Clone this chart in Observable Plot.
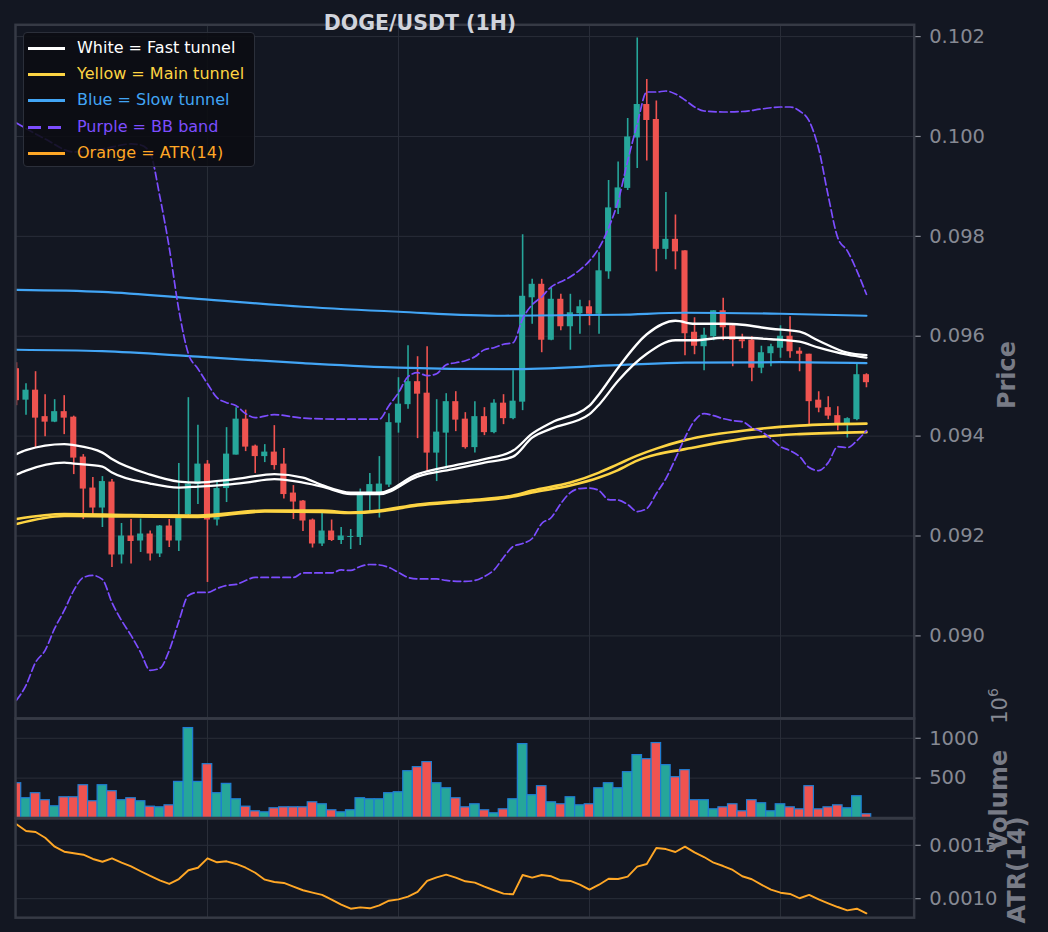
<!DOCTYPE html>
<html><head><meta charset="utf-8">
<script src="https://cdn.jsdelivr.net/npm/d3@7"></script>
<script src="https://cdn.jsdelivr.net/npm/@observablehq/plot@0.6"></script>
<style>
body{margin:0;background:#131722;font-family:"DejaVu Sans",sans-serif;}
#wrap{position:relative;width:1048px;height:932px;background:#131722;overflow:hidden}
.panel{position:absolute;left:0}
.vlab{position:absolute;transform:translate(-50%,-50%) rotate(-90deg);white-space:nowrap;color:#787b86;font-weight:bold;font-size:24px}
#title{position:absolute;left:420px;top:13.4px;transform:translateX(-50%);color:#d1d4dc;font-weight:bold;font-size:20.5px;line-height:20.5px;white-space:nowrap;z-index:5}
#legend{position:absolute;left:23px;top:32px;width:232px;height:135px;background:rgba(11,13,18,0.88);border:1px solid #2b2f3a;border-radius:4px;box-sizing:border-box;z-index:4}
.lrow{position:absolute;left:0;height:20px;font-size:16px;white-space:nowrap}
.lrow .sw{position:absolute;left:4px;top:9px;width:37px;height:3px}
.lrow .tx{position:absolute;left:53px;top:0;line-height:20px}
</style></head><body><div id="wrap"></div>
<script>
// ---- data ----
const chartTitle = "DOGE/USDT (1H)";
const opens = [0.09535,0.09472,0.09492,0.09439,0.09428,0.09449,0.09438,0.09358,0.09296,0.09256,
0.09308,0.09162,0.09200,0.09190,0.09204,0.09164,0.09220,0.09190,0.09243,0.09303,
0.09344,0.09232,0.09295,0.09362,0.09434,0.09380,0.09359,0.09368,0.09344,0.09286,
0.09270,0.09232,0.09184,0.09210,0.09191,0.09197,0.09197,0.09287,0.09287,0.09302,
0.09426,0.09463,0.09509,0.09486,0.09366,0.09406,0.09469,0.09434,0.09377,0.09439,
0.09407,0.09466,0.09435,0.09468,0.09677,0.09704,0.09592,0.09674,0.09619,0.09645,
0.09659,0.09644,0.09729,0.09856,0.09896,0.09997,0.10064,0.10034,0.09774,0.09794,
0.09771,0.09608,0.09579,0.09599,0.09651,0.09621,0.09593,0.09592,0.09536,0.09565,
0.09576,0.09600,0.09570,0.09564,0.09472,0.09457,0.09441,0.09423,0.09433,0.09523];
const highs = [0.09547,0.09505,0.09529,0.09483,0.09473,0.09481,0.09440,0.09363,0.09317,0.09319,
0.09313,0.09225,0.09233,0.09234,0.09210,0.09221,0.09233,0.09345,0.09477,0.09422,
0.09351,0.09310,0.09417,0.09457,0.09452,0.09382,0.09383,0.09421,0.09375,0.09301,
0.09271,0.09234,0.09246,0.09232,0.09217,0.09213,0.09294,0.09325,0.09359,0.09445,
0.09517,0.09581,0.09559,0.09579,0.09473,0.09485,0.09489,0.09447,0.09469,0.09457,
0.09473,0.09483,0.09531,0.09803,0.09714,0.09714,0.09697,0.09684,0.09684,0.09672,
0.09671,0.09767,0.09912,0.09949,0.10036,0.10197,0.10114,0.10071,0.09888,0.09843,
0.09771,0.09637,0.09616,0.09651,0.09676,0.09621,0.09604,0.09599,0.09580,0.09584,
0.09621,0.09639,0.09577,0.09564,0.09489,0.09479,0.09459,0.09437,0.09545,0.09525];
const lows = [0.09461,0.09442,0.09376,0.09399,0.09427,0.09403,0.09323,0.09233,0.09242,0.09217,
0.09137,0.09144,0.09144,0.09167,0.09150,0.09157,0.09177,0.09169,0.09240,0.09263,
0.09107,0.09220,0.09267,0.09362,0.09369,0.09325,0.09347,0.09332,0.09274,0.09233,
0.09209,0.09176,0.09179,0.09189,0.09183,0.09173,0.09181,0.09247,0.09236,0.09297,
0.09406,0.09454,0.09395,0.09327,0.09309,0.09334,0.09409,0.09374,0.09366,0.09401,
0.09405,0.09423,0.09433,0.09451,0.09624,0.09567,0.09591,0.09611,0.09572,0.09604,
0.09621,0.09604,0.09714,0.09844,0.09892,0.09936,0.09951,0.09729,0.09753,0.09733,
0.09561,0.09563,0.09531,0.09591,0.09591,0.09539,0.09575,0.09509,0.09525,0.09539,
0.09556,0.09556,0.09529,0.09423,0.09447,0.09433,0.09411,0.09396,0.09431,0.09497];
const closes = [0.09471,0.09492,0.09436,0.09428,0.09449,0.09436,0.09356,0.09294,0.09256,0.09309,
0.09162,0.09200,0.09189,0.09204,0.09164,0.09220,0.09190,0.09240,0.09304,0.09344,
0.09232,0.09295,0.09364,0.09434,0.09378,0.09359,0.09368,0.09341,0.09283,0.09268,
0.09230,0.09184,0.09210,0.09191,0.09200,0.09199,0.09286,0.09303,0.09304,0.09427,
0.09464,0.09509,0.09484,0.09366,0.09408,0.09469,0.09432,0.09377,0.09439,0.09407,
0.09466,0.09435,0.09470,0.09680,0.09704,0.09592,0.09674,0.09619,0.09647,0.09659,
0.09644,0.09731,0.09857,0.09897,0.09999,0.10064,0.10032,0.09774,0.09794,0.09769,
0.09605,0.09580,0.09602,0.09651,0.09617,0.09592,0.09589,0.09536,0.09567,0.09579,
0.09600,0.09569,0.09564,0.09469,0.09456,0.09440,0.09423,0.09435,0.09523,0.09507];
// volume in millions
const volumes = [436,248,311,223,147,260,260,411,210,411,
336,223,248,210,142,134,159,453,1128,453,
675,311,428,235,142,84,71,122,134,134,
134,197,172,97,71,97,248,235,235,311,
323,587,638,701,436,373,248,134,172,97,
59,109,235,927,286,399,197,172,260,159,
172,373,436,373,575,789,738,940,663,512,
600,223,223,109,134,172,84,223,185,84,
172,134,109,399,109,134,159,122,273,47];
const atr14 = [0.001697,0.001634,0.001625,0.001571,0.001487,0.001440,0.001425,0.001412,0.001372,0.001346,
0.001378,0.001337,0.001303,0.001257,0.001213,0.001172,0.001138,0.001184,0.001266,0.001290,
0.001378,0.001341,0.001350,0.001325,0.001290,0.001243,0.001178,0.001156,0.001147,0.001112,
0.001079,0.001056,0.001035,0.000991,0.000944,0.000906,0.000919,0.000910,0.000938,0.000981,
0.000994,0.001019,0.001063,0.001166,0.001200,0.001225,0.001197,0.001163,0.001150,0.001112,
0.001079,0.001047,0.001041,0.001222,0.001197,0.001222,0.001210,0.001172,0.001166,0.001131,
0.001084,0.001131,0.001187,0.001184,0.001206,0.001300,0.001325,0.001475,0.001465,0.001437,
0.001487,0.001434,0.001390,0.001337,0.001306,0.001269,0.001210,0.001182,0.001131,0.001084,
0.001056,0.001044,0.001004,0.001035,0.000994,0.000957,0.000922,0.000891,0.000906,0.000863];

// tunnels (sampled at candle index)
const fastIdx   = [0,1,5,6,9,10,14,17,19,22,24,27,30,32,35,38,42,46,49,52,54,56,60,61,63,66,69,71,74,76,79,82,84,87,89];
const fastUpper = [0.09364,0.09372,0.09384,0.09382,0.09367,0.09354,0.09323,0.09309,0.09307,0.09312,
0.09317,0.09324,0.09317,0.09302,0.09287,0.09287,0.09324,0.09342,0.09354,0.09371,
0.09405,0.09427,0.09461,0.09484,0.09537,0.09604,0.09631,0.09625,0.09625,0.09623,
0.09615,0.09609,0.09591,0.09567,0.09562];
const fastLower = [0.09323,0.09331,0.09347,0.09345,0.09339,0.09327,0.09305,0.09297,0.09299,0.09303,
0.09307,0.09314,0.09307,0.09299,0.09284,0.09284,0.09319,0.09335,0.09347,0.09359,
0.09397,0.09415,0.09444,0.09463,0.09511,0.09565,0.09592,0.09592,0.09597,0.09597,
0.09594,0.09589,0.09577,0.09563,0.09557];
const mainIdx   = [0,5,12,19,26,32,35,38,42,47,52,54,58,61,63,65,67,70,77,82,89];
const mainUpper = [0.09234,0.09244,0.09242,0.09241,0.09251,0.09251,0.09247,0.09251,0.09263,0.09271,
0.09281,0.09291,0.09307,0.09327,0.09344,0.09361,0.09375,0.09392,0.09413,0.09421,0.09425];
const mainLower = [0.09224,0.09240,0.09239,0.09238,0.09249,0.09248,0.09246,0.09249,0.09261,0.09269,
0.09279,0.09287,0.09301,0.09317,0.09332,0.09351,0.09363,0.09374,0.09397,0.09404,0.09408];
const slowIdx   = [0,9,19,30,40,51,63,70,80,89];
const slowUpper = [0.09693,0.09689,0.09675,0.09659,0.09649,0.09641,0.09643,0.09647,0.09645,0.09641];
const slowLower = [0.09573,0.09570,0.09559,0.09546,0.09537,0.09534,0.09542,0.09547,0.09548,0.09546];

// Bollinger bands
const bbUpperIdx = [0,3,6,9,12,13,14,15,16,17,18,19,20,21,22,23,24,25,27,30,34,38,
39,40,41,42,43,44,45,46,47,48,49,50,51,52,53,54,55,56,57,58,59,60,61,62,63,64,65,66,67,68,
69,70,71,72,74,76,78,80,81,82,83,84,85,86,87,88,89];
const bbUpper = [0.10027,0.09995,0.09969,0.09975,0.09985,0.09983,0.09967,0.09881,0.09777,0.09653,0.09565,0.09535,
0.09505,0.09477,0.09467,0.09461,0.09445,0.09437,0.09443,0.09436,0.09434,0.09434,
0.09461,0.09487,0.09519,0.09527,0.09521,0.09525,0.09543,0.09547,0.09551,0.09559,
0.09573,0.09577,0.09584,0.09587,0.09635,0.09663,0.09679,0.09699,0.09709,0.09719,
0.09733,0.09751,0.09777,0.09817,0.09871,0.09951,0.10025,0.10089,0.10089,0.10091,
0.10085,0.10073,0.10059,0.10051,0.10049,0.10050,0.10055,0.10059,0.10059,0.10051,
0.10031,0.09975,0.09881,0.09797,0.09771,0.09731,0.09684];
const bbLowerIdx = [0,1,2,3,4,5,6,7,8,9,10,11,12,13,14,15,16,17,18,19,20,21,22,23,24,25,
29,30,33,34,35,36,37,38,39,40,41,42,44,45,47,48,
49,50,51,52,53,54,55,56,57,58,59,60,61,62,63,64,65,66,67,68,69,70,71,72,73,74,75,76,77,78,
79,80,81,82,83,84,85,86,87,88,89];
const bbLower = [0.08871,0.08901,0.08947,0.08971,0.09015,0.09051,0.09091,0.09117,0.09121,0.09113,
0.09067,0.09031,0.09001,0.08967,0.08931,0.08935,0.08971,0.09029,0.09081,0.09087,
0.09087,0.09095,0.09101,0.09103,0.09111,0.09117,
0.09117,0.09126,0.09126,0.09132,0.09131,0.09139,0.09143,0.09142,0.09137,0.09127,0.09117,0.09114,
0.09114,0.09111,0.09109,0.09111,
0.09119,0.09132,0.09157,0.09179,0.09185,0.09195,0.09225,0.09237,0.09265,0.09287,
0.09295,0.09296,0.09291,0.09273,0.09272,0.09263,0.09249,0.09255,0.09285,0.09315,
0.09355,0.09397,0.09431,0.09445,0.09441,0.09435,0.09431,0.09429,0.09417,0.09409,
0.09395,0.09379,0.09371,0.09359,0.09337,0.09331,0.09347,0.09379,0.09377,0.09391,0.09411];

// ticks
const priceTicks = [0.090,0.092,0.094,0.096,0.098,0.100,0.102];
const volumeTicks = [500,1000];
const atrTicks = [0.0010,0.0015];
const xGridTicks = [20,40,60,80];

// legend entries
const legendLabels = ["White = Fast tunnel","Yellow = Main tunnel","Blue = Slow tunnel","Purple = BB band","Orange = ATR(14)"];
const legendColors = ["#ffffff","#fdd443","#42a5f5","#7c4dff","#ffa726"];
const legendDashed = [false,false,false,true,false];

// ---- drawing ----
const GREEN = "#26a69a", RED = "#ef5350";
const TICK = "#868993", GRID = "#2a2e39", SPINE = "#363a45";
const candles = opens.map((o, i) => ({i, open: o, high: highs[i], low: lows[i], close: closes[i],
  volume: volumes[i], atr: atr14[i], color: closes[i] >= o ? GREEN : RED}));
const series = (idx, vals) => idx.map((x, k) => ({x, y: vals[k]}));

function base(h, mt, mb, ydom) {
  return {width: 1048, height: h, marginLeft: 15, marginRight: 134.3, marginTop: mt, marginBottom: mb,
    x: {domain: [-0.1, 94], axis: null}, y: {domain: ydom, axis: null}, color: {type: "identity"},
    style: {background: "transparent", color: TICK, fontFamily: "'DejaVu Sans', sans-serif", fontSize: "19.5px", overflow: "visible"}};
}
const gridOpts = {stroke: GRID, strokeOpacity: 1, strokeWidth: 1};
const axisOpts = (fmt) => ({anchor: "right", label: null, tickSize: 6, tickPadding: 9, tickFormat: fmt, strokeWidth: 1.2});

const pricePlot = Plot.plot({
  ...base(724, 24.3, 6, [0.088346, 0.102236]),
  marks: [
    Plot.gridX(xGridTicks, gridOpts),
    Plot.gridY(priceTicks, gridOpts),
    Plot.ruleX(candles, {x: "i", y1: "low", y2: "high", stroke: "color", strokeWidth: 1.6, clip: true}),
    Plot.rect(candles, {x1: d => d.i - 0.32, x2: d => d.i + 0.32, y1: "open", y2: "close", fill: "color", clip: true}),
    Plot.line(series(slowIdx, slowUpper), {x: "x", y: "y", stroke: "#42a5f5", strokeWidth: 2.2, curve: "monotone-x"}),
    Plot.line(series(slowIdx, slowLower), {x: "x", y: "y", stroke: "#42a5f5", strokeWidth: 2.2, curve: "monotone-x"}),
    Plot.line(series(mainIdx, mainUpper), {x: "x", y: "y", stroke: "#fdd443", strokeWidth: 2.6, curve: "monotone-x"}),
    Plot.line(series(mainIdx, mainLower), {x: "x", y: "y", stroke: "#fdd443", strokeWidth: 2.6, curve: "monotone-x"}),
    Plot.line(series(fastIdx, fastUpper), {x: "x", y: "y", stroke: "#ffffff", strokeWidth: 2.3, curve: "monotone-x"}),
    Plot.line(series(fastIdx, fastLower), {x: "x", y: "y", stroke: "#ffffff", strokeWidth: 2.3, curve: "monotone-x"}),
    Plot.line(series(bbUpperIdx, bbUpper), {x: "x", y: "y", stroke: "#7c4dff", strokeWidth: 1.7, strokeDasharray: "7.5,3.5", curve: "monotone-x", clip: true}),
    Plot.line(series(bbLowerIdx, bbLower), {x: "x", y: "y", stroke: "#7c4dff", strokeWidth: 1.7, strokeDasharray: "7.5,3.5", curve: "monotone-x", clip: true}),
    Plot.axisY(priceTicks, axisOpts(d3.format(".3f"))),
    Plot.frame({stroke: SPINE, strokeWidth: 2.5})
  ]
});

const volumePlot = Plot.plot({
  ...base(111.5, 6, 6, [0, 1248]),
  marks: [
    Plot.gridX(xGridTicks, gridOpts),
    Plot.gridY(volumeTicks, gridOpts),
    Plot.rect(candles, {x1: d => d.i - 0.5, x2: d => d.i + 0.5, y1: 0, y2: "volume", fill: "color", stroke: "#1f7ed4", strokeWidth: 1.2, clip: true}),
    Plot.axisY(volumeTicks, axisOpts(d => String(d))),
    Plot.frame({stroke: SPINE, strokeWidth: 2.5})
  ]
});

const atrPlot = Plot.plot({
  ...base(111.2, 6, 6, [0.000822, 0.001751]),
  marks: [
    Plot.gridX(xGridTicks, gridOpts),
    Plot.gridY(atrTicks, gridOpts),
    Plot.line(candles, {x: "i", y: "atr", stroke: "#ffa726", strokeWidth: 1.9, clip: true}),
    Plot.axisY(atrTicks, axisOpts(d3.format(".4f"))),
    Plot.frame({stroke: SPINE, strokeWidth: 2.5})
  ]
});

const wrap = document.getElementById("wrap");
[[pricePlot, 0], [volumePlot, 712], [atrPlot, 811.5]].forEach(([svg, top]) => {
  svg.classList.add("panel");
  svg.style.top = top + "px";
  wrap.appendChild(svg);
});

// title (drawn above the top spine, as in the reference)
const tt = document.createElement("div");
tt.id = "title";
tt.textContent = chartTitle;
wrap.appendChild(tt);

// axis labels
function vlabel(html, cx, cy, extra) {
  const d = document.createElement("div");
  d.className = "vlab";
  d.innerHTML = html;
  d.style.left = cx + "px";
  d.style.top = cy + "px";
  if (extra) Object.assign(d.style, extra);
  wrap.appendChild(d);
}
vlabel("Price", 1007, 375);
vlabel("Volume", 999, 800);
vlabel("ATR(14)", 1017, 870);
vlabel("10<sup style='font-size:14px;vertical-align:9px'>6</sup>", 998, 706, {fontWeight: "normal", fontSize: "21px", color: "#868993"});

// legend
const lg = document.createElement("div");
lg.id = "legend";
legendLabels.forEach((t, k) => {
  const row = document.createElement("div");
  row.className = "lrow";
  row.style.top = (5 + k * 26.2) + "px";
  const sw = document.createElement("span");
  sw.className = "sw";
  sw.style.background = legendDashed[k]
    ? `repeating-linear-gradient(90deg, ${legendColors[k]} 0 13px, transparent 13px 20px)`
    : legendColors[k];
  const tx = document.createElement("span");
  tx.className = "tx";
  tx.style.color = legendColors[k];
  tx.textContent = t;
  row.appendChild(sw); row.appendChild(tx);
  lg.appendChild(row);
});
wrap.appendChild(lg);
</script>
</body></html>
